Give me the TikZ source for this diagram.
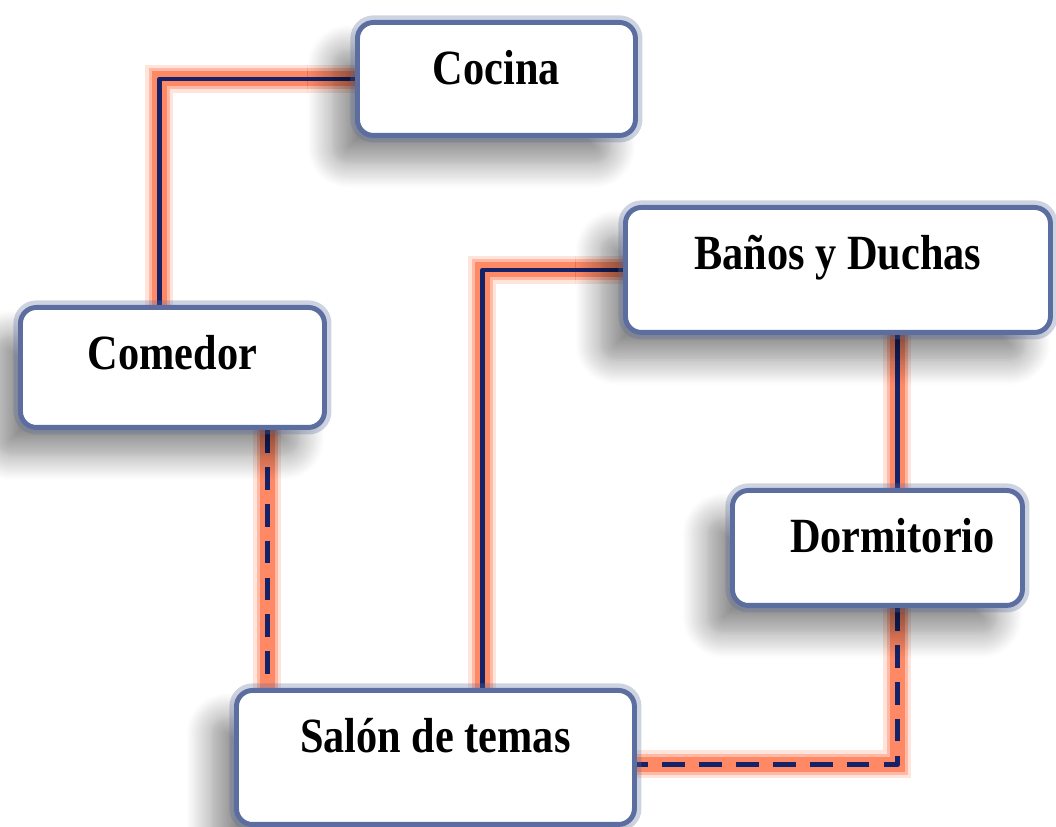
\documentclass[tikz,border=0pt]{standalone}
\usepackage{fontspec}
\setmainfont[FakeStretch=0.86]{Liberation Serif}
\usepackage{xcolor}
\usepackage{tikz}
\usetikzlibrary{positioning,calc,shadows,shadows.blur}
\definecolor{rimblue}{RGB}{92,110,160}
\definecolor{linkblue}{RGB}{20,35,105}
\definecolor{glow}{RGB}{255,120,80}
\pgfdeclarelayer{background}
\pgfsetlayers{background,main}

\begin{document}
\begin{tikzpicture}
    \tikzstyle{room} = [draw=rimblue, line width=2.8pt, fill=white, rounded corners=0.32cm, anchor=north west, inner sep=0pt, text height=1.24cm, font=\fontsize{28}{30}\selectfont\bfseries, blur shadow={shadow xshift=-0.5cm, shadow yshift=-0.55cm, shadow blur radius=0.5cm, shadow blur steps=14, shadow opacity=45}, preaction={draw=rimblue, line width=8pt, draw opacity=0.3}]
    \tikzstyle{link} = [draw=linkblue, line width=2.6pt, line join=round, preaction={draw=glow, line width=0.56cm, draw opacity=0.2, line cap=round}, preaction={draw=glow, line width=0.42cm, draw opacity=0.4, line cap=round}, preaction={draw=glow, line width=0.3cm, draw opacity=0.75, line cap=round}]
    \tikzstyle{weak} = [dash pattern=on 13pt off 8pt]

    \useasboundingbox (0,0) rectangle (21.12,16.54);

    \node [room, minimum width=6.08cm, text depth=1.16cm] (com) at (0.36,10.44) {Comedor};
    \node [room, minimum width=5.56cm, text depth=1.02cm] (coc) at (7.10,16.14) {Cocina};
    \node [room, minimum width=8.5cm, text depth=1.26cm] (ban) at (12.46,12.44) {Baños y Duchas};
    \node [room, minimum width=5.8cm, text depth=1.06cm] (dor) at (14.6,6.78) {\hspace{0.6cm}Dormitorio};
    \node [room, minimum width=7.96cm, text depth=1.44cm] (sal) at (4.68,2.78) {Salón de temas};

    \begin{pgfonlayer}{background}
    \draw [link] (coc.west) -| ([xshift=-0.26cm]com.north);
    \draw [link] (ban.west) -| ([xshift=0.94cm]sal.north);
    \coordinate (bd) at ([xshift=0.4cm]dor.north);
    \draw [link] (bd |- ban.south) -- (bd);

    % dashed ones
    \coordinate (cs) at ([xshift=1.9cm]com.south);
    \draw [link, weak] (cs) -- (cs |- sal.north);
    \draw [link, weak] ([xshift=0.4cm]dor.south) |- ([yshift=-0.14cm]sal.east);
    \end{pgfonlayer}
\end{tikzpicture}
\end{document}
